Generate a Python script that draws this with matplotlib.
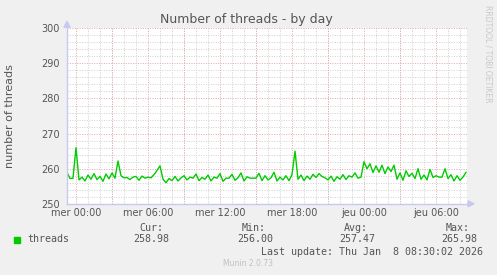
import numpy as np
import matplotlib
matplotlib.use("Agg")
import matplotlib.pyplot as plt
from matplotlib.ticker import MultipleLocator

# ---- data ----
start_hour = -0.75      # hours relative to "mer 00:00"
step_hour = 0.25
threads = [
    259.0, 257.2, 257.3, 265.98, 256.8, 257.6, 256.5, 258.2, 257.0, 258.6,
    256.9, 257.8, 256.4, 258.5, 257.1, 258.8, 257.3, 262.2, 258.0, 257.4,
    257.5, 256.9, 257.6, 257.8, 256.7, 257.9, 257.3, 257.6, 257.4, 258.3,
    259.5, 260.8, 257.0, 256.0, 257.2, 256.6, 257.8, 256.5, 257.4, 258.0,
    256.8, 257.6, 257.3, 258.5, 256.6, 257.5, 257.0, 258.2, 256.5, 257.6,
    257.3, 258.6, 256.4, 257.3, 257.3, 258.4, 256.7, 257.4, 258.8, 256.5,
    257.7, 257.3, 257.3, 257.3, 258.7, 256.6, 258.0, 256.8, 257.4, 259.0,
    256.5, 257.6, 256.8, 258.0, 256.6, 258.3, 265.0, 257.0, 258.2, 256.6,
    257.9, 257.0, 258.4, 257.5, 258.6, 257.8, 257.4, 256.8, 257.9, 256.4,
    257.7, 257.0, 258.3, 256.9, 258.0, 257.6, 258.8, 257.3, 257.6, 262.0,
    260.0, 261.4, 258.9, 260.8, 259.0, 261.0, 258.6, 260.5, 259.2, 261.0,
    257.0, 258.8, 256.7, 259.4, 257.8, 258.7, 257.2, 260.0, 257.0, 258.2,
    256.8, 259.8, 257.5, 258.0, 257.6, 257.6, 260.0, 257.2, 258.3, 256.5,
    258.0, 256.7, 257.6, 258.98,
]
tick_hours = [0, 6, 12, 18, 24, 30]
tick_labels = ["mer 00:00", "mer 06:00", "mer 12:00", "mer 18:00", "jeu 00:00", "jeu 06:00"]
y_ticks = [250, 260, 270, 280, 290, 300]
series_name = "threads"
stat_names = ["Cur:", "Min:", "Avg:", "Max:"]
stat_values = ["258.98", "256.00", "257.47", "265.98"]
title = "Number of threads - by day"
ylabel = "number of threads"
last_update = "Last update: Thu Jan  8 08:30:02 2026"
footer = "Munin 2.0.73"
side_text = "RRDTOOL / TOBI OETIKER"

# ---- figure ----
W, H = 497, 275
fig = plt.figure(figsize=(W / 100, H / 100), dpi=100, facecolor="#f0f0f0")
x0, x1, ytop, ybot = 67, 467, 28.3, 203.8
ax = fig.add_axes([x0 / W, 1 - ybot / H, (x1 - x0) / W, (ybot - ytop) / H])
ax.set_facecolor("white")

hours = start_hour + step_hour * np.arange(len(threads))
xmin, xmax = start_hour, start_hour + 400 / 12
ax.set_xlim(xmin, xmax)
ax.set_ylim(250, 300)

# grid
dot = (0, (1, 1.5))
ax.set_xticks(tick_hours, tick_labels)
ax.xaxis.set_minor_locator(MultipleLocator(1))
ax.set_yticks(y_ticks)
ax.yaxis.set_minor_locator(MultipleLocator(2))
ax.grid(which="minor", color="#d0d0d0", linestyle=dot, linewidth=0.7)
for h in np.arange(0, xmax, 3):
    ax.axvline(h, color="#e0a8a8", linestyle=dot, linewidth=0.7, zorder=1)
for v in y_ticks:
    ax.axhline(v, color="#e0a8a8", linestyle=dot, linewidth=0.7, zorder=1)
ax.set_axisbelow(True)

ax.plot(hours, threads, color="#00cc00", linewidth=1.0, zorder=3)

for s in ax.spines.values():
    s.set_visible(False)
axis_col = "#c8c8f0"
ax.plot([xmin, xmin], [250, 300], color=axis_col, lw=1, clip_on=False, zorder=4)
ax.plot([xmin, xmax], [250, 250], color=axis_col, lw=1, clip_on=False, zorder=4)
fig.patches.append(plt.Polygon([[ (x0-3)/W, 1-(ytop-1)/H], [(x0+3)/W, 1-(ytop-1)/H], [x0/W, 1-(ytop-7)/H]],
                               closed=True, transform=fig.transFigure, color=axis_col))
fig.patches.append(plt.Polygon([[ (x1+1)/W, 1-(ybot-3)/H], [(x1+1)/W, 1-(ybot+3)/H], [(x1+7)/W, 1-ybot/H]],
                               closed=True, transform=fig.transFigure, color=axis_col))

ax.tick_params(axis="both", which="both", length=0, labelsize=7, labelcolor="#555555")
ax.tick_params(axis="x", pad=3)
ax.tick_params(axis="y", pad=5)

txt = "#555555"
fig.text(246 / W, 1 - 19 / H, title, ha="center", va="center", fontsize=9, color=txt)
fig.text(10 / W, 1 - 116 / H, ylabel, ha="center", va="center", rotation=90, fontsize=8, color=txt)
fig.text(488 / W, 1 - 54 / H, side_text, ha="center", va="center", rotation=270,
         fontsize=5.5, color="#c8c8c8")

mono = "DejaVu Sans Mono"
fig.patches.append(plt.Rectangle(((14) / W, 1 - 243 / H), 6 / W, 6 / H, transform=fig.transFigure,
                                 color="#00cc00"))
fig.text(27 / W, 1 - 239.5 / H, series_name, ha="left", va="center", fontsize=7.2, family=mono, color=txt)
stat_right = [169, 273, 375, 477]
head_right = [163, 266, 368, 470]
for n, v, hr, vr in zip(stat_names, stat_values, head_right, stat_right):
    fig.text(hr / W, 1 - 227.7 / H, n, ha="right", va="center", fontsize=7.2, family=mono, color=txt)
    fig.text(vr / W, 1 - 239.5 / H, v, ha="right", va="center", fontsize=7.2, family=mono, color=txt)
fig.text(483 / W, 1 - 251.7 / H, last_update, ha="right", va="center", fontsize=7.2, family=mono, color=txt)
fig.text(248 / W, 1 - 263.5 / H, footer, ha="center", va="center", fontsize=5.5, color="#c0c0c0")

fig.savefig("out.png", dpi=100, facecolor=fig.get_facecolor())
